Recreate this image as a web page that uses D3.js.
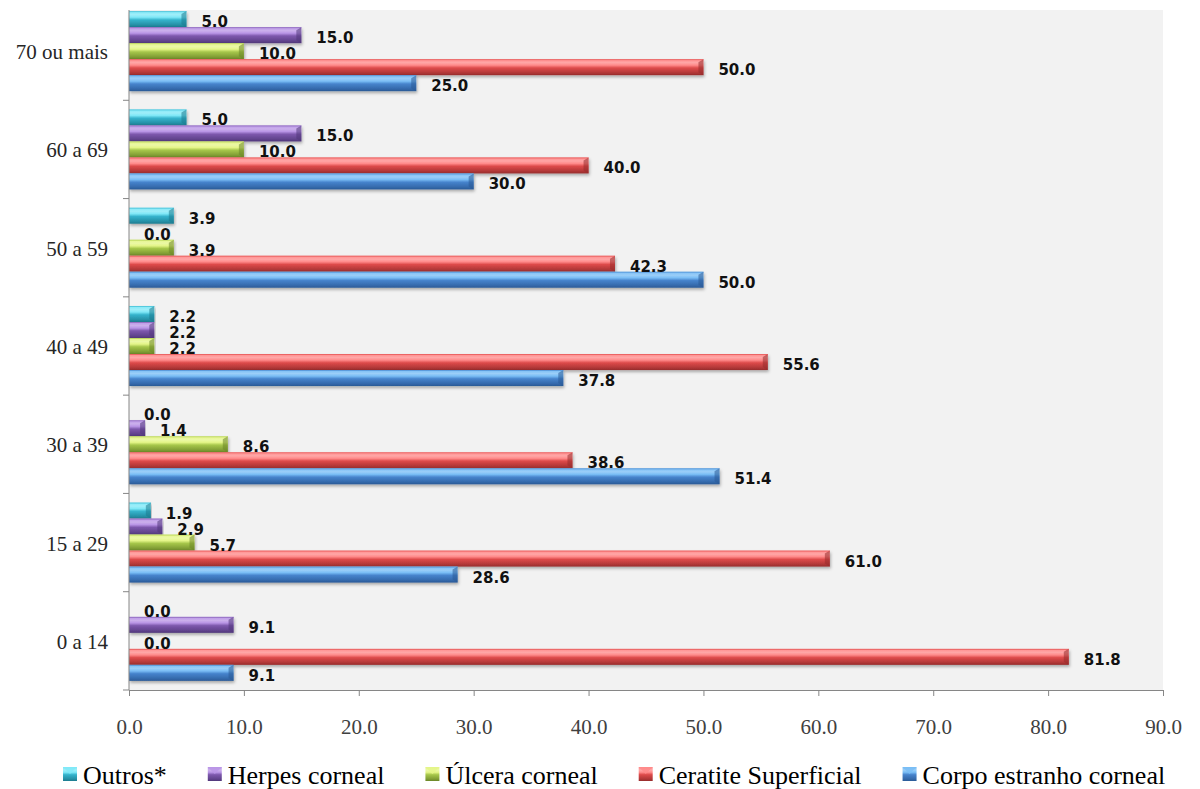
<!DOCTYPE html>
<html>
<head>
<meta charset="utf-8">
<script src="https://cdn.jsdelivr.net/npm/d3@7"></script>
<style>
    body { margin: 0; background: #fff; }
    svg { display: block; }
</style>
</head>
<body>
<svg id="chart" width="1200" height="789"></svg>
<script>
// age groups, bottom to top as in the picture
var categories = ['0 a 14', '15 a 29', '30 a 39', '40 a 49', '50 a 59', '60 a 69', '70 ou mais'];
// series, in legend order (left to right) = top to bottom inside a group
var series = ['Outros*', 'Herpes corneal', 'Úlcera corneal', 'Ceratite Superficial', 'Corpo estranho corneal'];

var outros    = [0.0, 1.9, 0.0, 2.2, 3.9, 5.0, 5.0];
var herpes    = [9.1, 2.9, 1.4, 2.2, 0.0, 15.0, 15.0];
var ulcera    = [0.0, 5.7, 8.6, 2.2, 3.9, 10.0, 10.0];
var ceratite  = [81.8, 61.0, 38.6, 55.6, 42.3, 40.0, 50.0];
var corpo     = [9.1, 28.6, 51.4, 37.8, 50.0, 30.0, 25.0];
var values = [outros, herpes, ulcera, ceratite, corpo];

var xTicks = [0, 10, 20, 30, 40, 50, 60, 70, 80, 90];

// light / base / dark for the bevelled bars
var colors = [
    ['#7fe8f7', '#35b3cc', '#1c7a8e'],
    ['#b995e6', '#7d58ad', '#50367a'],
    ['#e4f588', '#a6c64a', '#6a8527'],
    ['#ff8a8a', '#dd4a4a', '#962c2c'],
    ['#79bdf5', '#4683cc', '#2a5a96']
];

var svg = d3.select('#chart');
var plot = { left: 129, right: 1163, top: 10, bottom: 690 };

var x = d3.scaleLinear().domain([0, 90]).range([plot.left, plot.right]);
// the first band is partly cut by the plot top, as in the original
var y0 = d3.scaleBand().domain(categories).range([plot.bottom, 2]).padding(0);
var y1 = d3.scaleBand().domain(series).range([0, y0.bandwidth()]).paddingInner(0).paddingOuter(0.57);

var defs = svg.append('defs');
colors.forEach(function(c, i) {
    var g = defs.append('linearGradient').attr('id', 'grad' + i)
        .attr('x1', 0).attr('y1', 0).attr('x2', 0).attr('y2', 1);
    g.append('stop').attr('offset', '0%').attr('stop-color', c[0]);
    g.append('stop').attr('offset', '22%').attr('stop-color', d3.interpolateRgb(c[0], '#fff')(0.25));
    g.append('stop').attr('offset', '38%').attr('stop-color', c[0]);
    g.append('stop').attr('offset', '55%').attr('stop-color', c[1]);
    g.append('stop').attr('offset', '85%').attr('stop-color', d3.interpolateRgb(c[1], c[2])(0.6));
    g.append('stop').attr('offset', '100%').attr('stop-color', c[2]);
});
var shadow = defs.append('filter').attr('id', 'shadow')
    .attr('x', '-5%').attr('y', '-30%').attr('width', '110%').attr('height', '180%');
shadow.append('feDropShadow').attr('dx', 1).attr('dy', 2).attr('stdDeviation', 1.5)
    .attr('flood-color', '#000').attr('flood-opacity', 0.3);

svg.append('rect')
    .attr('x', plot.left).attr('y', plot.top)
    .attr('width', plot.right - plot.left).attr('height', plot.bottom - plot.top)
    .attr('fill', '#f2f2f2');

// bars
var rows = [];
categories.forEach(function(cat, ci) {
    series.forEach(function(s, si) {
        rows.push({ cat: cat, s: s, si: si, v: values[si][ci] });
    });
});

var bars = svg.append('g').selectAll('g.bar').data(rows).enter().append('g').attr('class', 'bar');

bars.filter(function(d) { return d.v > 0; }).each(function(d) {
    var g = d3.select(this);
    var by = y0(d.cat) + y1(d.s);
    var h = y1.bandwidth();
    var x0 = x(0), xe = x(d.v);
    g.append('rect')
        .attr('x', x0).attr('y', by)
        .attr('width', xe - x0).attr('height', h)
        .attr('fill', 'url(#grad' + d.si + ')')
        .attr('filter', 'url(#shadow)');
    // bevelled end of the bar
    var cap = Math.min(5, xe - x0);
    g.append('path')
        .attr('d', 'M' + (xe - cap) + ',' + (by + 3) + 'L' + xe + ',' + by + 'L' + xe + ',' + (by + h) + 'L' + (xe - cap) + ',' + (by + h - 3) + 'Z')
        .attr('fill', colors[d.si][2]).attr('opacity', 0.55);
    g.append('line')
        .attr('x1', x0).attr('x2', xe).attr('y1', by + 0.5).attr('y2', by + 0.5)
        .attr('stroke', colors[d.si][1]).attr('stroke-opacity', 0.6);
});

// value labels
svg.append('g').selectAll('text').data(rows).enter().append('text')
    .attr('x', function(d) { return x(d.v) + 15; })
    .attr('y', function(d) { return y0(d.cat) + y1(d.s) + y1.bandwidth(); })
    .attr('font-family', 'DejaVu Sans, Verdana, sans-serif')
    .attr('font-weight', 'bold')
    .attr('font-size', 15)
    .attr('fill', '#111')
    .text(function(d) { return d3.format('.1f')(d.v); });

// bottom axis
var xAxis = svg.append('g')
    .attr('transform', 'translate(0,' + plot.bottom + ')')
    .call(d3.axisBottom(x).tickValues(xTicks).tickSize(6).tickSizeOuter(0).tickFormat(d3.format('.1f')));
xAxis.select('.domain').attr('stroke', '#868686');
xAxis.selectAll('.tick line').attr('stroke', '#868686');
xAxis.selectAll('.tick text')
    .attr('y', 44).attr('dy', 0)
    .attr('font-family', 'Liberation Serif, Times New Roman, serif')
    .attr('font-size', 21)
    .attr('fill', '#404040');

// left axis: line with ticks on the band edges
var leftAxis = svg.append('g');
leftAxis.append('line')
    .attr('x1', plot.left).attr('x2', plot.left)
    .attr('y1', plot.top).attr('y2', plot.bottom)
    .attr('stroke', '#868686');
var edges = categories.map(function(c) { return y0(c) + y0.bandwidth(); }).concat([y0(categories[categories.length - 1])]);
leftAxis.selectAll('line.edge').data(edges.filter(function(e) { return e >= plot.top; })).enter().append('line')
    .attr('class', 'edge')
    .attr('x1', plot.left - 6).attr('x2', plot.left)
    .attr('y1', function(d) { return d; }).attr('y2', function(d) { return d; })
    .attr('stroke', '#868686');
leftAxis.selectAll('text').data(categories).enter().append('text')
    .attr('x', 108)
    .attr('y', function(d) { return y0(d) + y0.bandwidth() / 2 + 8; })
    .attr('text-anchor', 'end')
    .attr('font-family', 'Liberation Serif, Times New Roman, serif')
    .attr('font-size', 21)
    .attr('fill', '#262626')
    .text(function(d) { return d; });

// legend, laid out from left to right
var legend = svg.append('g');
var lx = 63;
series.forEach(function(s, i) {
    var item = legend.append('g');
    item.append('rect')
        .attr('x', lx).attr('y', 767)
        .attr('width', 14).attr('height', 14)
        .attr('fill', 'url(#grad' + i + ')');
    item.append('path')
        .attr('d', 'M' + lx + ',' + 767 + 'L' + (lx + 14) + ',767L' + (lx + 7) + ',774Z')
        .attr('fill', colors[i][0]).attr('opacity', 0.8);
    var t = item.append('text')
        .attr('x', lx + 20).attr('y', 784)
        .attr('font-family', 'Liberation Serif, Times New Roman, serif')
        .attr('font-size', 26)
        .attr('fill', '#000')
        .text(s);
    lx += 20 + t.node().getComputedTextLength() + 41;
});
</script>
</body>
</html>
